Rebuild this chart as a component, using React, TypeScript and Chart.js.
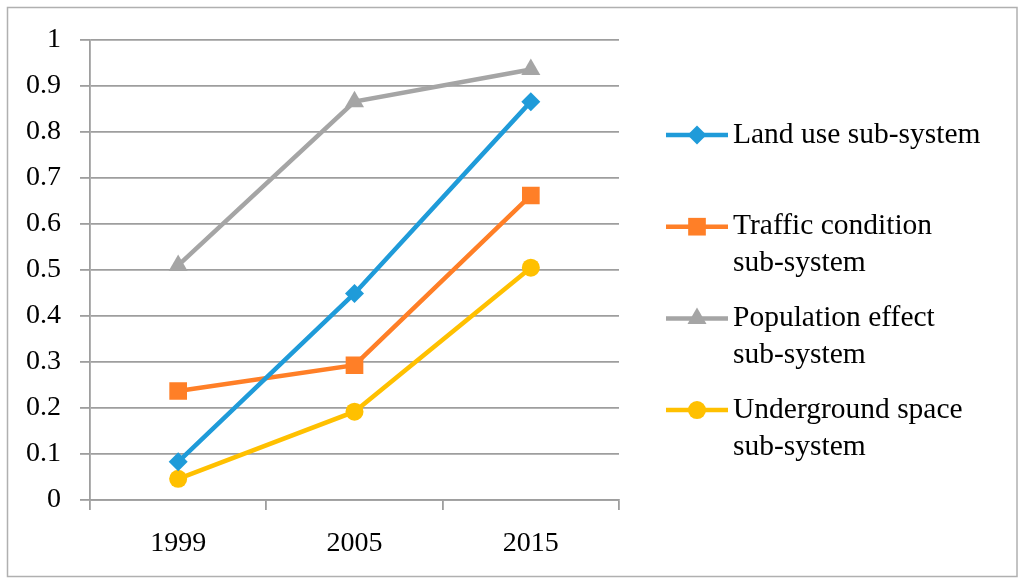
import { useEffect, useRef } from "react";
import { Chart, registerables } from "chart.js";
import { drawPoint } from "chart.js/helpers";

Chart.register(...registerables);

const categories = ["1999", "2005", "2015"];
const landUse = [0.083, 0.449, 0.866];
const traffic = [0.237, 0.293, 0.662];
const population = [0.51, 0.866, 0.936];
const underground = [0.046, 0.192, 0.505];
const legendLines = [
  ["Land use sub-system"],
  ["Traffic condition", "sub-system"],
  ["Population effect", "sub-system"],
  ["Underground space", "sub-system"],
];
const yTickLabels = ["0", "0.1", "0.2", "0.3", "0.4", "0.5", "0.6", "0.7", "0.8", "0.9", "1"];

const FONT = "'Liberation Serif', 'Times New Roman', serif";
const GRID = "#9e9e9e";

export default function App() {
  const ref = useRef<HTMLCanvasElement | null>(null);

  useEffect(() => {
    if (!ref.current) return;

    const frame = {
      id: "frame",
      beforeDraw(chart: any) {
        const ctx = chart.ctx;
        ctx.save();
        ctx.fillStyle = "#ffffff";
        ctx.fillRect(0, 0, chart.width, chart.height);
        ctx.strokeStyle = "#b0b0b0";
        ctx.lineWidth = 1.5;
        ctx.strokeRect(7.5, 7.5, 1009.5, 569);
        ctx.restore();
      },
    };

    const sideLegend = {
      id: "sideLegend",
      afterDraw(chart: any) {
        const ctx = chart.ctx;
        ctx.save();
        chart.data.datasets.forEach((ds: any, i: number) => {
          const y = 135 + i * 91.7;
          ctx.strokeStyle = ds.borderColor;
          ctx.lineWidth = 4.5;
          ctx.beginPath();
          ctx.moveTo(666, y);
          ctx.lineTo(728, y);
          ctx.stroke();
          ctx.fillStyle = ds.pointBackgroundColor;
          ctx.strokeStyle = ds.pointBackgroundColor;
          ctx.lineWidth = 0.01;
          drawPoint(ctx, { pointStyle: ds.pointStyle, radius: ds.pointRadius, rotation: 0, borderWidth: 0 } as any, 697, y);
          ctx.fillStyle = "#000000";
          ctx.font = `29.5px ${FONT}`;
          ctx.textBaseline = "middle";
          ctx.textAlign = "left";
          legendLines[i].forEach((line, j) => {
            ctx.fillText(line, 733, y + j * 37);
          });
        });
        ctx.restore();
      },
    };

    const mk = (label: string, data: number[], color: string, style: string, r: number) => ({
      label,
      data,
      borderColor: color,
      backgroundColor: color,
      pointBackgroundColor: color,
      pointBorderColor: color,
      pointBorderWidth: 0,
      pointStyle: style,
      pointRadius: r,
      pointHoverRadius: r,
      borderWidth: 4.5,
      tension: 0,
      fill: false,
    });

    const chart = new Chart(ref.current, {
      type: "line",
      data: {
        labels: categories,
        datasets: [
          mk(legendLines[0].join(" "), landUse, "#1f9bd9", "rectRot", 9.5),
          mk(legendLines[1].join(" "), traffic, "#ff7f27", "rect", 12.5),
          mk(legendLines[2].join(" "), population, "#a5a5a5", "triangle", 11),
          mk(legendLines[3].join(" "), underground, "#ffc000", "circle", 9),
        ] as any,
      },
      options: {
        animation: false,
        responsive: false,
        devicePixelRatio: 1,
        layout: { padding: { left: 0, top: 40, right: 405, bottom: 0 } },
        plugins: {
          legend: { display: false },
          tooltip: { enabled: false },
        },
        scales: {
          x: {
            type: "category",
            offset: true,
            afterFit: (s: any) => {
              s.height = 84;
            },
            grid: {
              offset: true,
              drawOnChartArea: false,
              drawTicks: true,
              tickLength: 10,
              color: GRID,
              lineWidth: 1.8,
            },
            border: { display: true, color: GRID, width: 1.8 },
            ticks: {
              color: "#000000",
              font: { family: FONT, size: 28 },
              padding: 17,
              maxRotation: 0,
            },
          },
          y: {
            min: 0,
            max: 1,
            afterFit: (s: any) => {
              s.width = 90;
            },
            grid: {
              color: GRID,
              lineWidth: 1.8,
              tickLength: 10,
              drawTicks: true,
            },
            border: { display: true, color: GRID, width: 1.8 },
            ticks: {
              stepSize: 0.1,
              color: "#000000",
              font: { family: FONT, size: 28 },
              padding: 19,
              callback: (_v: any, i: number) => yTickLabels[i],
            },
          },
        },
      },
      plugins: [frame, sideLegend],
    });

    return () => chart.destroy();
  }, []);

  return (
    <div style={{ position: "fixed", left: 0, top: 0, width: 1024, height: 584 }}>
      <canvas ref={ref} width={1024} height={584} style={{ display: "block", width: 1024, height: 584 }} />
    </div>
  );
}
